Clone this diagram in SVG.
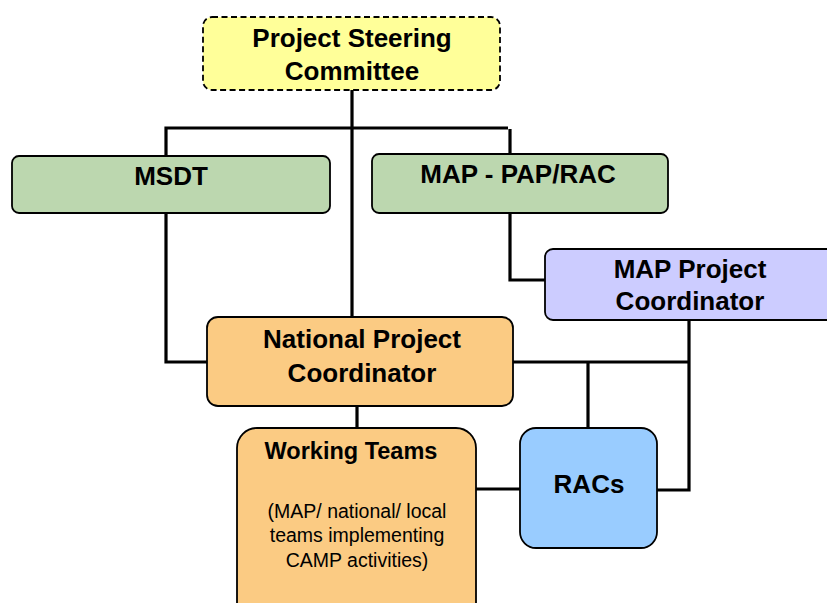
<svg xmlns="http://www.w3.org/2000/svg" width="827" height="603" viewBox="0 0 827 603">
<style>
.box{stroke:#000;stroke-width:1.8}
.conn{fill:none;stroke:#000;stroke-width:3.2}
.t{font-family:"Liberation Sans",Arial,sans-serif;font-weight:bold;font-size:26px;text-anchor:middle;fill:#000}
.s{font-family:"Liberation Sans",Arial,sans-serif;font-size:19.5px;text-anchor:middle;fill:#000}
</style>
<rect width="827" height="603" fill="#fff"/>
<g id="connectors">
<path class="conn" d="M352,90 V316"/>
<path class="conn" d="M166,156 V128 H508"/>
<path class="conn" d="M510,129 V154"/>
<path class="conn" d="M166,213 V362 H207"/>
<path class="conn" d="M510,213 V280 H545"/>
<path class="conn" d="M513,362 H689"/>
<path class="conn" d="M689,320 V490 H657"/>
<path class="conn" d="M588,362 V428"/>
<path class="conn" d="M357,406 V428"/>
<path class="conn" d="M476,489 H520"/>
</g>
<g id="steering">
<rect class="box" x="203" y="17" width="297" height="73" rx="9" fill="#FFFF99" stroke-dasharray="6,3.5" stroke-width="2"/>
<text class="t" x="352" y="47">Project Steering</text>
<text class="t" x="352" y="80">Committee</text>
</g>
<g id="msdt">
<rect class="box" x="12" y="156" width="318" height="57" rx="7" fill="#BCD7AF"/>
<text class="t" x="171" y="185">MSDT</text>
</g>
<g id="mappaprac">
<rect class="box" x="372" y="154" width="296" height="59" rx="7" fill="#BCD7AF"/>
<text class="t" x="518" y="183">MAP - PAP/RAC</text>
</g>
<g id="mapcoord">
<rect class="box" x="545" y="249" width="290" height="71" rx="8" fill="#CCCCFF"/>
<text class="t" x="690" y="278">MAP Project</text>
<text class="t" x="690" y="310">Coordinator</text>
</g>
<g id="national">
<rect class="box" x="207" y="317" width="306" height="89" rx="11" fill="#FBCB83"/>
<text class="t" x="362" y="348">National Project</text>
<text class="t" x="362" y="382">Coordinator</text>
</g>
<g id="working">
<rect class="box" x="237" y="428" width="239" height="200" rx="20" fill="#FBCB83"/>
<text class="t" x="351" y="459" style="font-size:23.5px">Working Teams</text>
<text class="s" x="357" y="518">(MAP/ national/ local</text>
<text class="s" x="357" y="542">teams implementing</text>
<text class="s" x="357" y="567">CAMP activities)</text>
</g>
<g id="racs">
<rect class="box" x="520" y="428" width="137" height="120" rx="16" fill="#99CCFF"/>
<text class="t" x="589" y="493">RACs</text>
</g>
</svg>
